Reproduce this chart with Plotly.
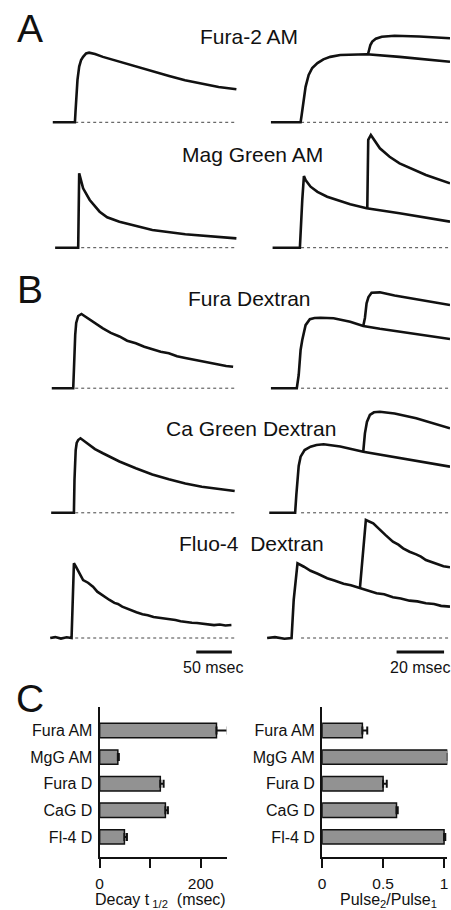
import plotly.graph_objects as go

W, H = 451, 910

# ---------------- DATA ----------------
# time in msec, amplitude = fluorescence change normalised to the single-pulse peak of each row
fura2am_single_t = [-31.5, -0.4, 0.4, 1.4, 3.2, 5.6, 8.3, 11.1, 15.3, 19.4, 27.8, 38.9, 62.1, 84.7,
                    108.3, 131.9, 154.2, 177.8, 201.4, 226.4]
fura2am_single_a = [0, 0, 0.148, 0.32, 0.61, 0.80, 0.895, 0.94, 0.99, 1.0, 0.98, 0.94, 0.87, 0.80,
                    0.727, 0.665, 0.603, 0.55, 0.507, 0.474]
fura2am_pair_t = [-11.7, 0.8, 1.25, 1.5, 2.1, 2.9, 4.2, 5.7, 7.9, 10.4, 13.3, 17.5, 28.75, 42.5, 63.75]
fura2am_pair_a = [0, 0, 0.105, 0.18, 0.35, 0.51, 0.68, 0.78, 0.85, 0.905, 0.94, 0.967, 0.977, 0.94, 0.87]
fura2am_second_t = [29.2, 29.6, 30.2, 31.0, 32.5, 35.0, 40.4, 50.8, 63.75]
fura2am_second_a = [0.977, 1.04, 1.11, 1.16, 1.20, 1.23, 1.244, 1.233, 1.207]

maggreen_single_t = [-28.2, 4.2, 5.6, 8.75, 11.1, 20.4, 34.3, 44.9, 62.1, 108.3, 154.6, 226.4]
maggreen_single_a = [0, 0, 1.0, 0.887, 0.798, 0.641, 0.484, 0.409, 0.349, 0.238, 0.180, 0.126]
maggreen_pair_t = [-11, 0.5, 1.5, 2.2, 2.9, 5, 7.9, 12, 21.7, 28.6, 42.5, 63.75]
maggreen_pair_a = [0, 0, 0.64, 0.964, 0.91, 0.82, 0.75, 0.685, 0.583, 0.53, 0.462, 0.35]
maggreen_second_t = [28.9, 29.1, 29.3, 30.4, 31.7, 34.2, 38.3, 42.5, 53.6, 63.75]
maggreen_second_a = [0.53, 1.044, 1.45, 1.515, 1.45, 1.336, 1.223, 1.134, 0.977, 0.866]

furadex_single_t = [-32.9, -2.8, -1.8, -1.0, 0, 1.4, 4.2, 8.75, 18, 27.8, 38.9, 50, 62.1, 73, 85.1, 97,
                    108.3, 120, 131.5, 143, 154.6, 166, 177.8, 190, 201, 212, 221.8]
furadex_single_a = [0, 0, 0.245, 0.515, 0.717, 0.88, 0.973, 1.0, 0.94, 0.872, 0.807, 0.745, 0.697, 0.64,
                    0.605, 0.56, 0.528, 0.49, 0.47, 0.43, 0.407, 0.385, 0.357, 0.34, 0.319, 0.30, 0.29]
furadex_pair_t = [-11.7, -0.8, 0, 0.8, 1.5, 2.9, 4.7, 6.7, 9.2, 14.7, 21.7, 27.2, 34.2, 42.5, 52.9, 63.75]
furadex_pair_a = [0, 0, 0.178, 0.515, 0.65, 0.85, 0.93, 0.946, 0.95, 0.942, 0.896, 0.838, 0.80, 0.761,
                  0.71, 0.663]
furadex_second_t = [27.2, 27.9, 28.6, 29.4, 30.7, 34.2, 40.4, 46.7, 55, 63.75]
furadex_second_a = [0.838, 0.946, 1.144, 1.229, 1.287, 1.292, 1.249, 1.212, 1.166, 1.121]

cagreendex_single_t = [-33.75, -1.8, -1.0, 0, 0.7, 2.1, 4.2, 7.4, 18, 27.8, 38.9, 62.1, 85.1, 108.3,
                       131.5, 154.6, 177.8, 201, 224]
cagreendex_single_a = [0, 0, 0.44, 0.709, 0.843, 0.937, 0.977, 1.0, 0.923, 0.856, 0.799, 0.689, 0.597,
                       0.514, 0.45, 0.393, 0.35, 0.317, 0.293]
cagreendex_pair_t = [-12.4, -1.5, -1.0, -0.5, 0, 0.8, 2.5, 5, 7.5, 10.5, 17.5, 27.2, 42.5, 63.75]
cagreendex_pair_a = [0, 0, 0.239, 0.44, 0.628, 0.753, 0.843, 0.887, 0.91, 0.919, 0.89, 0.82, 0.732, 0.619]
cagreendex_second_t = [27.2, 27.5, 27.9, 28.75, 30, 31.7, 34.2, 40.4, 49.5, 63.75]
cagreendex_second_a = [0.82, 0.91, 1.067, 1.219, 1.313, 1.349, 1.357, 1.333, 1.268, 1.134]

fluo4dex_single_t = [-35.1, -28, -20, -12, -5.1, -3.5, -1.8, 1.4, 6, 11.1, 18, 25, 31, 36, 42, 48.2,
                     55, 60, 66, 71.3, 78, 86, 94.4, 102, 110, 117.6, 125, 133, 140.7, 148, 156,
                     163.9, 171, 180, 187.1, 195, 203, 211, 219.4]
fluo4dex_single_a = [0, 0.012, -0.008, 0.01, 0, 0.643, 1.0, 0.95, 0.86, 0.776, 0.74, 0.686, 0.62, 0.585,
                     0.54, 0.509, 0.47, 0.455, 0.42, 0.398, 0.37, 0.345, 0.317, 0.305, 0.28, 0.272,
                     0.26, 0.25, 0.241, 0.225, 0.22, 0.205, 0.20, 0.19, 0.187, 0.172, 0.18, 0.168, 0.174]
fluo4dex_pair_t = [-13.3, -10, -6, -3.0, -2.1, -0.5, 2.2, 5, 8, 12, 15, 18.9, 22, 25.8, 29, 32.8, 36,
                   39.7, 43, 46.7, 50, 53.6, 57, 60, 63.75]
fluo4dex_pair_a = [0, 0.012, -0.01, 0, 0.51, 1.0, 0.954, 0.90, 0.86, 0.80, 0.77, 0.726, 0.705, 0.668,
                   0.645, 0.60, 0.585, 0.546, 0.53, 0.50, 0.49, 0.465, 0.455, 0.43, 0.42]
fluo4dex_second_t = [25.8, 27.5, 28.3, 31.4, 34, 36.5, 39.7, 42, 44, 46.7, 49.5, 51.5, 53.6, 56, 59,
                     61, 63.75]
fluo4dex_second_a = [0.668, 1.245, 1.58, 1.535, 1.45, 1.38, 1.289, 1.25, 1.20, 1.155, 1.12, 1.09,
                     1.044, 1.02, 0.985, 0.96, 0.946]

row_titles = ["Fura-2 AM", "Mag Green AM", "Fura Dextran", "Ca Green Dextran", "Fluo-4  Dextran"]

single_baseline_t = [0, 226]
pair_baseline_t = [1, 63.75]
scalebar_single_t = [170, 220]   # 50 msec
scalebar_pair_t = [41.25, 61.25]  # 20 msec

bar_categories = ["Fura AM", "MgG AM", "Fura D", "CaG D", "Fl-4 D"]
decay_half_ms = [231, 36, 120, 130, 49]
decay_half_err = [22, 2, 6.5, 5, 5]
decay_tick_vals = [0, 200]
decay_minor_ticks = [100]
pulse_ratio = [0.33, 1.03, 0.50, 0.61, 1.00]
pulse_ratio_err = [0.04, 0.0, 0.03, 0.01, 0.01]
pulse_tick_vals = [0, 0.5, 1]

# ---------------- LAYOUT HELPERS ----------------
FONT = "Liberation Sans, Arial, Helvetica, sans-serif"
INK = "#111111"


def xdom(p0, p1):
    return [p0 / W, min(p1 / W, 1.0)]


def ydom(p0, p1):
    return [max(1 - p1 / H, 0.0), min(1 - p0 / H, 1.0)]


# time axis of each column: pixel = origin + k * t
LEFT_ORIGIN, LEFT_K, LEFT_PX = 72.0, 0.72, (40, 245)
RIGHT_ORIGIN, RIGHT_K, RIGHT_PX = 298.0, 2.4, (260, 451)

# rows: (baseline pixel, pixels per unit, top pixel, bottom pixel)
rows = [
    (122.3, 69.6, 20, 130),
    (247.7, 74.4, 128, 256),
    (388.2, 74.2, 278, 396),
    (512.8, 74.5, 398, 521),
    (638.0, 74.7, 505, 657),
]

fig = go.Figure()

layout = dict(
    width=W, height=H,
    margin=dict(l=0, r=0, t=0, b=0),
    paper_bgcolor="white", plot_bgcolor="rgba(0,0,0,0)",
    showlegend=False,
    font=dict(family=FONT, color=INK),
)

hidden = dict(visible=False, fixedrange=True)
layout["xaxis"] = dict(hidden, domain=xdom(*LEFT_PX),
                       range=[(LEFT_PX[0] - LEFT_ORIGIN) / LEFT_K, (LEFT_PX[1] - LEFT_ORIGIN) / LEFT_K])
layout["xaxis2"] = dict(hidden, domain=xdom(*RIGHT_PX),
                        range=[(RIGHT_PX[0] - RIGHT_ORIGIN) / RIGHT_K, (RIGHT_PX[1] - RIGHT_ORIGIN) / RIGHT_K])
for i, (yb, s, top, bot) in enumerate(rows):
    name = "yaxis" if i == 0 else f"yaxis{i + 1}"
    layout[name] = dict(hidden, domain=ydom(top, bot), range=[(yb - bot) / s, (yb - top) / s])

trace_sets = [
    (fura2am_single_t, fura2am_single_a, fura2am_pair_t, fura2am_pair_a, fura2am_second_t, fura2am_second_a),
    (maggreen_single_t, maggreen_single_a, maggreen_pair_t, maggreen_pair_a, maggreen_second_t, maggreen_second_a),
    (furadex_single_t, furadex_single_a, furadex_pair_t, furadex_pair_a, furadex_second_t, furadex_second_a),
    (cagreendex_single_t, cagreendex_single_a, cagreendex_pair_t, cagreendex_pair_a, cagreendex_second_t, cagreendex_second_a),
    (fluo4dex_single_t, fluo4dex_single_a, fluo4dex_pair_t, fluo4dex_pair_a, fluo4dex_second_t, fluo4dex_second_a),
]

for i, (st, sa, pt, pa, qt, qa) in enumerate(trace_sets):
    ya = "y" if i == 0 else f"y{i + 1}"
    # dotted baselines
    fig.add_trace(go.Scatter(x=single_baseline_t, y=[0, 0], xaxis="x", yaxis=ya, mode="lines",
                             line=dict(color="#444444", width=1, dash="dot"), hoverinfo="skip"))
    fig.add_trace(go.Scatter(x=pair_baseline_t, y=[0, 0], xaxis="x2", yaxis=ya, mode="lines",
                             line=dict(color="#444444", width=1, dash="dot"), hoverinfo="skip"))
    for tx, ty, xa in [(st, sa, "x"), (pt, pa, "x2"), (qt, qa, "x2")]:
        fig.add_trace(go.Scatter(x=tx, y=ty, xaxis=xa, yaxis=ya, mode="lines",
                                 line=dict(color=INK, width=2.6, shape="linear"),
                                 hoverinfo="skip"))

# scale bars (in the last row's axes)
sb_y = (rows[4][0] - 652) / rows[4][1]
fig.add_trace(go.Scatter(x=scalebar_single_t, y=[sb_y, sb_y], xaxis="x", yaxis="y5", mode="lines",
                         line=dict(color=INK, width=3), hoverinfo="skip"))
fig.add_trace(go.Scatter(x=scalebar_pair_t, y=[sb_y, sb_y], xaxis="x2", yaxis="y5", mode="lines",
                         line=dict(color=INK, width=3), hoverinfo="skip"))

# ---------------- BAR CHARTS ----------------
BAR_TOP, BAR_BOT = 706.7, 857.3
CAT0, CAT_STEP = 730.5, 26.6
yr = [(BAR_BOT - CAT0) / CAT_STEP, (BAR_TOP - CAT0) / CAT_STEP]
cat_idx = list(range(len(bar_categories)))

bar_axis_common = dict(showline=True, linewidth=2, linecolor=INK, showgrid=False, zeroline=False,
                       fixedrange=True)
tick_common = dict(ticks="outside", ticklen=9, tickwidth=2, tickcolor=INK, ticklabelstandoff=2,
                   tickfont=dict(size=15.5, family=FONT, color=INK))
layout["xaxis3"] = dict(bar_axis_common, **tick_common, domain=xdom(96.7, 225),
                        range=[0, (225 - 96.7) / 0.5115], anchor="y6", tickvals=decay_tick_vals,
                        minor=dict(tickvals=decay_minor_ticks, ticks="outside", ticklen=9, tickwidth=2,
                                   tickcolor=INK, showgrid=False))
layout["yaxis6"] = dict(bar_axis_common, domain=ydom(BAR_TOP, BAR_BOT), range=yr, anchor="x3",
                        tickvals=cat_idx, ticktext=bar_categories, ticks="", ticklabelstandoff=2,
                        tickfont=dict(size=16, family=FONT, color=INK))
layout["xaxis4"] = dict(bar_axis_common, **tick_common, domain=xdom(321.7, 448.3),
                        range=[0, (448.3 - 321.7) / 123.3], anchor="y7", tickvals=pulse_tick_vals,
                        ticktext=["0", "0.5", "1"])
layout["yaxis7"] = dict(bar_axis_common, domain=ydom(BAR_TOP, BAR_BOT), range=yr, anchor="x4",
                        tickvals=cat_idx, ticktext=bar_categories, ticks="", ticklabelstandoff=2,
                        tickfont=dict(size=16, family=FONT, color=INK))

bar_style = dict(orientation="h", width=0.54, marker=dict(color="#929292", line=dict(color=INK, width=1.5)),
                 hoverinfo="skip", cliponaxis=False)
fig.add_trace(go.Bar(x=decay_half_ms, y=cat_idx, xaxis="x3", yaxis="y6",
                     error_x=dict(type="data", array=decay_half_err, arrayminus=[0] * 5, symmetric=False,
                                  color=INK, thickness=2, width=4), **bar_style))
fig.add_trace(go.Bar(x=pulse_ratio, y=cat_idx, xaxis="x4", yaxis="y7",
                     error_x=dict(type="data", array=pulse_ratio_err, arrayminus=[0] * 5, symmetric=False,
                                  color=INK, thickness=2, width=4), **bar_style))

# ---------------- TEXT ----------------
ann = []


def text(x, y, s, size, xanchor="center"):
    ann.append(dict(x=x / W, y=1 - y / H, xref="paper", yref="paper", text=s, showarrow=False,
                    xanchor=xanchor, yanchor="middle", font=dict(size=size, family=FONT, color=INK)))


text(26, 29, "A", 39)
text(26, 289, "B", 39)
text(26, 698, "C", 39)
title_pos = [(248, 37), (251, 154), (248, 299), (250, 428), (250, 543)]
for (x, y), s in zip(title_pos, row_titles):
    text(x, y, s, 21)
text(211, 667, "50 msec", 16)
text(388, 667, "20 msec", 16, xanchor="left")
text(158, 900, "Decay t<sub> 1/2</sub>  (msec)", 16)
text(389, 900, "Pulse<sub>2</sub>/Pulse<sub>1</sub>", 16)

layout["annotations"] = ann
fig.update_layout(**layout)
fig.write_html("out.html", config={"displayModeBar": False, "staticPlot": True},
               post_script="document.body.style.margin='0';document.body.style.overflow='hidden';")
